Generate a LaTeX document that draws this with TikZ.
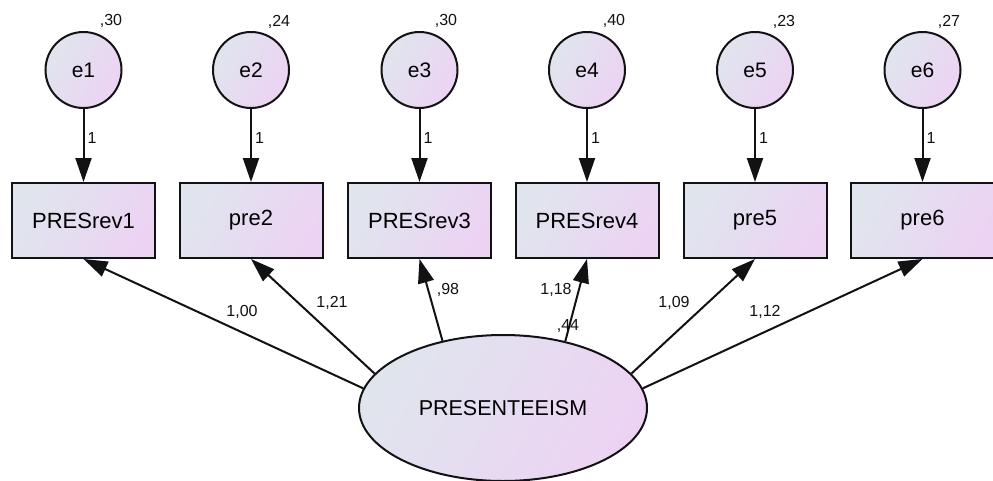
\documentclass[tikz,border=0pt]{standalone}
\usepackage{fontspec}
\setmainfont{Liberation Sans}
\usetikzlibrary{arrows.meta,shapes.geometric}
\definecolor{fillA}{RGB}{224,229,237}
\definecolor{fillB}{RGB}{236,211,244}
\definecolor{ink}{RGB}{18,18,18}
\tikzset{
  grad/.style={draw=ink, line width=2pt, left color=fillA, right color=fillB, shading angle=60},
  errnode/.style={grad, circle, minimum size=76pt, inner sep=0pt, font=\fontsize{21}{25}\selectfont},
  obsbox/.style={grad, rectangle, minimum width=143pt, minimum height=75pt, inner sep=0pt, font=\fontsize{22}{26}\selectfont},
  latent/.style={grad, ellipse, minimum width=288pt, minimum height=146pt, inner sep=0pt, font=\fontsize{21.5}{26}\selectfont},
  arr/.style={line width=2pt, draw=ink, -{Triangle[length=24pt,width=16pt]}},
  est/.style={font=\fontsize{16}{19}\selectfont, inner sep=0pt, text=ink},
}
\begin{document}
\begin{tikzpicture}[x=1pt, y=-1pt]
  \fill[white] (0,0) rectangle (993,480);
  \useasboundingbox (0,0) rectangle (993,480);

  % latent factor
  \node[latent] (pres) at (503,408) {PRESENTEEISM};

  % observed indicators
  \node[obsbox] (b1) at (83.5,220.5)  {PRESrev1};
  \node[obsbox] (b2) at (251,220.5)   {pre2};
  \node[obsbox] (b3) at (419.5,220.5) {PRESrev3};
  \node[obsbox] (b4) at (587,220.5)   {PRESrev4};
  \node[obsbox] (b5) at (755,220.5)   {pre5};
  \node[obsbox] (b6) at (922.5,220.5) {pre6};

  % error terms
  \node[errnode] (e1) at (83.5,70)  {e1};
  \node[errnode] (e2) at (251,70)   {e2};
  \node[errnode] (e3) at (419.5,70) {e3};
  \node[errnode] (e4) at (587,70)   {e4};
  \node[errnode] (e5) at (755,70)   {e5};
  \node[errnode] (e6) at (922.5,70) {e6};

  % error variances
  \node[est] (v1) at (111,21)  {,30};
  \node[est] (v2) at (279,22)  {,24};
  \node[est] (v3) at (446,21)  {,30};
  \node[est] (v4) at (614,21)  {,40};
  \node[est] (v5) at (784,22)  {,23};
  \node[est] (v6) at (949,22)  {,27};

  % error paths fixed to 1
  \foreach \i in {1,...,6}
    \draw[arr] (e\i) -- (b\i) node[est, pos=0.4, right=3pt] (one\i) {1};

  % factor loadings
  \draw[arr] (pres.172) -- (b1.south);
  \draw[arr] (pres.165) -- (b2.south);
  \draw[arr] (pres.132) -- (b3.south);
  \draw[arr] (pres.47)  -- (b4.south);
  \draw[arr] (pres.15)  -- (b5.south);
  \draw[arr] (pres.8)   -- (b6.south);

  \node[est] (l1) at (242,312) {1,00};
  \node[est] (l2) at (332,303) {1,21};
  \node[est] (l3) at (448,290) {,98};
  \node[est] (l4) at (556,290) {1,18};
  \node[est] (l5) at (674,303) {1,09};
  \node[est] (l6) at (765,312) {1,12};

  % factor variance
  \node[est] (vp) at (568,326) {,44};
\end{tikzpicture}
\end{document}
